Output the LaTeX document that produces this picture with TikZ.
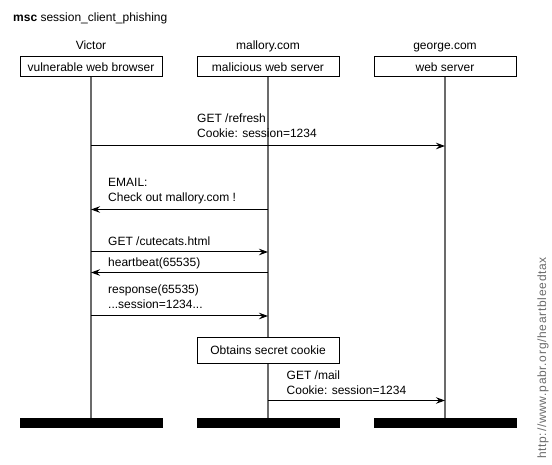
\documentclass[tikz,border=0pt]{standalone}
\usepackage{fontspec}
\setmainfont{Liberation Sans}
\usepackage{tikz}
\usetikzlibrary{positioning,arrows.meta}
\definecolor{linegray}{gray}{0.42}
\tikzstyle{instance} = [draw, line width=1pt, fill=white, minimum width=142pt, minimum height=20pt, inner sep=0pt]
\tikzstyle{instname} = [anchor=base, inner sep=0pt]
\tikzstyle{endbar} = [fill=black, minimum width=143pt, minimum height=9.5pt, inner sep=0pt]
\tikzstyle{lifeline} = [draw=linegray, line width=1.6pt]
\tikzstyle{msg} = [draw, line width=1pt, -{Stealth[length=9pt,width=6.5pt,inset=3pt]}]
\tikzstyle{msglabel} = [anchor=base west, align=left, inner sep=0pt]

\begin{document}
\begin{tikzpicture}[x=1pt, y=-1pt, font=\fontsize{12}{15}\selectfont]
					\useasboundingbox (0,0) rectangle (552,465);
					\node[anchor=base west, inner sep=0pt] (title) at (13,22) {\textbf{msc} session\_client\_phishing};
					\node[instname] (victorname) at (91,49.5) {Victor};
					\node[instname] (malloryname) at (268,49.5) {mallory.com};
					\node[instname] (georgename) at (445,49.5) {george.com};
					\node[instance] (victor) at (91,67) {vulnerable web browser};
					\node[instance] (mallory) at (268,67) {malicious web server};
					\node[instance] (george) at (445,67) {web server};
					\node[endbar] (victorend) at (91,423) {};
					\node[endbar] (malloryend) at (268,423) {};
					\node[endbar] (georgeend) at (445,423) {};
					\draw[lifeline] (victor) -- (victorend);
					\draw[lifeline] (mallory) -- (malloryend);
					\draw[lifeline] (george) -- (georgeend);
					\coordinate (r1) at (0,146);
					\coordinate (r2) at (0,209.5);
					\coordinate (r3) at (0,252);
					\coordinate (r4) at (0,272.5);
					\coordinate (r5) at (0,316);
					\coordinate (r6) at (0,400.5);
					\draw[msg] (victor |- r1) -- (george |- r1);
					\node[msglabel] (refresh) at (197,138) {GET /refresh\\Cookie: session=1234};
					\draw[msg] (mallory |- r2) -- (victor |- r2);
					\node[msglabel] (email) at (108,202) {EMAIL:\\Check out mallory.com !};
					\draw[msg] (victor |- r3) -- (mallory |- r3);
					\node[msglabel] (cutecats) at (108,246) {GET /cutecats.html};
					\draw[msg] (mallory |- r4) -- (victor |- r4);
					\node[msglabel] (heartbeat) at (108,266.5) {heartbeat(65535)};
					\draw[msg] (victor |- r5) -- (mallory |- r5);
					\node[msglabel] (response) at (108,308.3) {response(65535)\\...session=1234...};
					\node[instance, minimum height=26pt] (secret) at (268,350.5) {Obtains secret cookie};
					\draw[msg] (mallory |- r6) -- (george |- r6);
					\node[msglabel] (mail) at (286.5,394) {GET /mail\\Cookie: session=1234};
					\node[rotate=90, text=linegray, inner sep=0pt, font=\fontsize{12}{15}\selectfont\addfontfeatures{LetterSpace=6}] (url) at (543,358) {http://www.pabr.org/heartbleedtax};
\end{tikzpicture}
\end{document}
